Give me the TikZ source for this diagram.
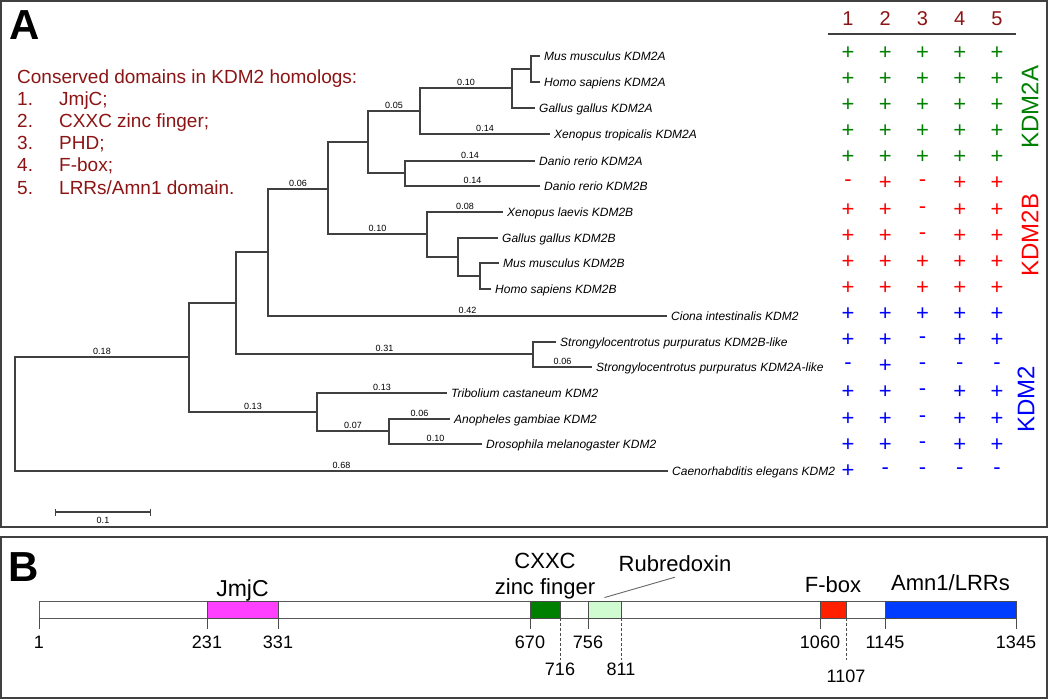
\documentclass[tikz,border=0pt]{standalone}
\usepackage{fontspec}
\setmainfont{Liberation Sans}
\usetikzlibrary{positioning,arrows.meta}

\definecolor{legendred}{RGB}{140,20,20}
\definecolor{kdmgreen}{RGB}{0,128,0}
\definecolor{kdmred}{RGB}{255,0,0}
\definecolor{kdmblue}{RGB}{0,0,255}
\definecolor{jmjcpink}{RGB}{255,64,255}
\definecolor{cxxcgreen}{RGB}{0,128,0}
\definecolor{rubgreen}{RGB}{208,250,208}
\definecolor{fboxred}{RGB}{255,32,0}
\definecolor{lrrblue}{RGB}{0,60,255}
\definecolor{treegray}{RGB}{64,64,64}

\newcommand{\pxfont}[1]{\fontsize{#1}{#1}\selectfont}

\begin{document}
\begin{tikzpicture}[
    x=1pt, y=-1pt,
    panel/.style={
        draw=black!75,
        line width=1.3pt
    },
    paneltag/.style={
        font=\pxfont{42}\bfseries,
        inner sep=0pt
    },
    branch/.style={
        draw=treegray,
        line width=1.2pt
    },
    blen/.style={
        font=\pxfont{9},
        above,
        inner sep=1.5pt
    },
    leaf/.style={
        anchor=west,
        font=\pxfont{12}\itshape,
        inner xsep=4pt,
        inner ysep=0pt,
        text height=8.6pt,
        text depth=0pt
    },
    legend/.style={
        font=\pxfont{19},
        text=legendred,
        inner sep=0pt,
        anchor=base west
    },
    colhead/.style={
        font=\pxfont{20},
        text=legendred,
        inner sep=0pt
    },
    signcell/.style={
        font=\pxfont{22},
        inner sep=0pt
    },
    grouplabel/.style={
        font=\pxfont{24},
        rotate=90,
        inner sep=0pt
    },
    protbar/.style={
        draw=black!65,
        line width=0.9pt,
        fill=white,
        minimum height=17pt,
        inner sep=0pt
    },
    dombox/.style={
        protbar,
        draw=black!70
    },
    domlabel/.style={
        font=\pxfont{22},
        inner sep=0pt,
        text depth=0pt,
        align=center
    },
    poslabel/.style={
        font=\pxfont{18},
        inner sep=0pt,
        anchor=base
    },
    postick/.style={
        draw=black!70,
        line width=0.9pt
    },
    dashtick/.style={
        postick,
        dash pattern=on 3pt off 2pt
    },
    pointer/.style={
        draw=black!60,
        line width=0.9pt
    }
]

\useasboundingbox (0,0) rectangle (1050,699);

% --- Panel frames ---
\draw[panel] (1,1) rectangle (1047,527);
\draw[panel] (1,537) rectangle (1047,698);
\node[paneltag] (tagA) at (25,25) {A};
\node[paneltag] (tagB) at (24,567) {B};

% --- Legend (domain list) ---
\node[legend] (lgtitle) at (17,83) {Conserved domains in KDM2 homologs:};
\foreach \n/\t [count=\k] in {1./{JmjC;}, 2./{CXXC zinc finger;}, 3./{PHD;}, 4./{F-box;}, 5./{LRRs/Amn1 domain.}} {
    \node[legend] (lgnum\k) at (17,83+22.2*\k) {\n};
    \node[legend] (lgitem\k) at (59,83+22.2*\k) {\t};
}

% --- Tree: inner nodes ---
\coordinate (root) at (15,414);
\coordinate (n189) at (189,357);
\coordinate (n236) at (236,303);
\coordinate (n268) at (268,252);
\coordinate (n328) at (328,189);
\coordinate (n368) at (368,142);
\coordinate (n420) at (420,111);
\coordinate (n512) at (512,88);
\coordinate (n531) at (531,69);
\coordinate (n405) at (405,173);
\coordinate (n427) at (427,234);
\coordinate (n458) at (458,257);
\coordinate (n480) at (480,276);
\coordinate (n533) at (533,354);
\coordinate (n317) at (317,412);
\coordinate (n389) at (389,431);

% --- Tree: leaves ---
\node[leaf] (musA) at (540,56) {Mus musculus KDM2A};
\node[leaf] (homA) at (540,82) {Homo sapiens KDM2A};
\node[leaf] (galA) at (535,108) {Gallus gallus KDM2A};
\node[leaf] (xenT) at (550,134) {Xenopus tropicalis KDM2A};
\node[leaf] (danA) at (535,161) {Danio rerio KDM2A};
\node[leaf] (danB) at (540,186) {Danio rerio KDM2B};
\node[leaf] (xenL) at (503,212) {Xenopus laevis KDM2B};
\node[leaf] (galB) at (498,238) {Gallus gallus KDM2B};
\node[leaf] (musB) at (499,263) {Mus musculus KDM2B};
\node[leaf] (homB) at (491,289) {Homo sapiens KDM2B};
\node[leaf] (cio)  at (667,316) {Ciona intestinalis KDM2};
\node[leaf] (strB) at (556,342) {Strongylocentrotus purpuratus KDM2B-like};
\node[leaf] (strA) at (592,367) {Strongylocentrotus purpuratus KDM2A-like};
\node[leaf] (tri)  at (447,393) {Tribolium castaneum KDM2};
\node[leaf] (ano)  at (450,419) {Anopheles gambiae KDM2};
\node[leaf] (dro)  at (482,444) {Drosophila melanogaster KDM2};
\node[leaf] (cae)  at (668,471) {Caenorhabditis elegans KDM2};

% --- Tree: branches ---
\draw[branch] (root) |- node[blen, pos=0.75] {0.18} (n189)
              (root) |- node[blen, pos=0.75] {0.68} (cae);
\draw[branch] (n189) |- (n236)
              (n189) |- node[blen, pos=0.75] {0.13} (n317);
\draw[branch] (n236) |- (n268)
              (n236) |- node[blen, pos=0.75] {0.31} (n533);
\draw[branch] (n268) |- node[blen, pos=0.75] {0.06} (n328)
              (n268) |- node[blen, pos=0.75] {0.42} (cio);
\draw[branch] (n328) |- (n368)
              (n328) |- node[blen, pos=0.75] {0.10} (n427);
\draw[branch] (n368) |- node[blen, pos=0.75] {0.05} (n420)
              (n368) |- (n405);
\draw[branch] (n420) |- node[blen, pos=0.75] {0.10} (n512)
              (n420) |- node[blen, pos=0.75] {0.14} (xenT);
\draw[branch] (n512) |- (n531)
              (n512) |- (galA);
\draw[branch] (n531) |- (musA)
              (n531) |- (homA);
\draw[branch] (n405) |- node[blen, pos=0.75] {0.14} (danA)
              (n405) |- node[blen, pos=0.75] {0.14} (danB);
\draw[branch] (n427) |- node[blen, pos=0.75] {0.08} (xenL)
              (n427) |- (n458);
\draw[branch] (n458) |- (galB)
              (n458) |- (n480);
\draw[branch] (n480) |- (musB)
              (n480) |- (homB);
\draw[branch] (n533) |- (strB)
              (n533) |- node[blen, pos=0.75] {0.06} (strA);
\draw[branch] (n317) |- node[blen, pos=0.75] {0.13} (tri)
              (n317) |- node[blen, pos=0.75] {0.07} (n389);
\draw[branch] (n389) |- node[blen, pos=0.75] {0.06} (ano)
              (n389) |- node[blen, pos=0.75] {0.10} (dro);

% --- Scale bar ---
\coordinate (sbL) at (55,512);
\coordinate (sbR) at (151,512);
\draw[branch, {Bar[width=7pt]}-{Bar[width=7pt]}] (sbL) -- node[blen, below, inner sep=5pt] (sblab) {0.1} (sbR);

% --- Domain table ---
\foreach \i in {1,...,5}
    \node[colhead] (h\i) at (810.75+37.25*\i,19) {\i};
\draw[draw=black!75, line width=1.3pt] (828,34) -- (1016,34);

\foreach \c/\m [count=\r] in {
    kdmgreen/{+,+,+,+,+}, kdmgreen/{+,+,+,+,+}, kdmgreen/{+,+,+,+,+},
    kdmgreen/{+,+,+,+,+}, kdmgreen/{+,+,+,+,+},
    kdmred/{-,+,-,+,+}, kdmred/{+,+,-,+,+}, kdmred/{+,+,-,+,+},
    kdmred/{+,+,+,+,+}, kdmred/{+,+,+,+,+},
    kdmblue/{+,+,+,+,+}, kdmblue/{+,+,-,+,+}, kdmblue/{-,+,-,-,-},
    kdmblue/{+,+,-,+,+}, kdmblue/{+,+,-,+,+}, kdmblue/{+,+,-,+,+},
    kdmblue/{+,-,-,-,-}} {
    \foreach \v [count=\i] in \m
        \node[signcell, text=\c] (m-\r-\i) at (810.75+37.25*\i,53+26.125*\r-26.125) {\v};
}

\node[grouplabel, text=kdmgreen] (grpA) at (1030,107) {KDM2A};
\node[grouplabel, text=kdmred] (grpB) at (1030,235) {KDM2B};
\node[grouplabel, text=kdmblue] (grpK) at (1026,399) {KDM2};

% --- Panel B: protein bar ---
\node[protbar, minimum width=977pt] (bar) at (527.5,609.5) {};
\node[dombox, fill=jmjcpink, minimum width=71pt] (jmjc) at (242.5,609.5) {};
\node[dombox, fill=cxxcgreen, minimum width=30pt] (cxxc) at (545,609.5) {};
\node[dombox, fill=rubgreen, minimum width=33pt] (rub) at (604.5,609.5) {};
\node[dombox, fill=fboxred, minimum width=26pt] (fbox) at (833,609.5) {};
\node[dombox, fill=lrrblue, minimum width=131pt] (lrr) at (950.5,609.5) {};

% --- Panel B: domain labels ---
\node[domlabel, above=4pt of jmjc, font=\pxfont{23}] (jmjclab) {JmjC};
\node[domlabel, above=6pt of cxxc, font=\fontsize{22}{26}\selectfont] (cxxclab) {CXXC\\zinc finger};
\node[domlabel, anchor=base] (rublab) at (675,571) {Rubredoxin};
\node[domlabel, above=8pt of fbox] (fboxlab) {F-box};
\node[domlabel, above=10pt of lrr] (lrrlab) {Amn1/LRRs};
\draw[pointer] ([yshift=-6pt]rublab.south) -- ([yshift=3pt]rub.north);

% --- Panel B: positions ---
\foreach \x/\n in {39/1, 207/231, 278/331, 530/670, 588/756, 820/1060, 885/1145, 1016/1345} {
    \draw[postick] (\x,618) -- (\x,629);
    \node[poslabel] (p\n) at (\x,648) {\n};
}
\foreach \x/\n/\y in {560/716/675, 621/811/675, 846/1107/682} {
    \draw[dashtick] (\x,618) -- (\x,660);
    \node[poslabel] (p\n) at (\x,\y) {\n};
}

\end{tikzpicture}
\end{document}
